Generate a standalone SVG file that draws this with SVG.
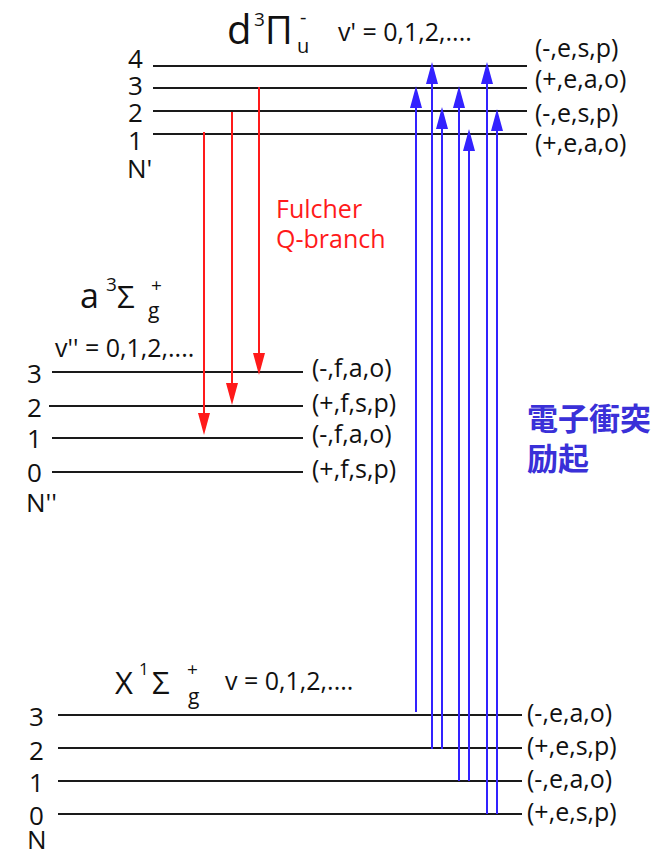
<svg xmlns="http://www.w3.org/2000/svg" width="666" height="856" viewBox="0 0 666 856">
<style>
.lvl{stroke:#1a1a1a;stroke-width:2;fill:none}
.t{font-family:"Open Sans","Liberation Sans",sans-serif;fill:#111}
.num{font-size:26px}
.par{font-size:25px}
.blue{stroke:#3322ff;stroke-width:2;fill:none}
.red{stroke:#ff1a1a;stroke-width:2;fill:none}
.rt{font-family:"Open Sans","Liberation Sans",sans-serif;font-size:25px;fill:#ff1a1a}
.cjk{font-family:"Noto Sans CJK JP","Noto Sans CJK SC",sans-serif;font-weight:bold;font-size:31px;fill:#3a30d8}
</style>
<defs>
<marker id="ab" viewBox="0 0 22 12" refX="12" refY="6" markerWidth="22" markerHeight="12" markerUnits="userSpaceOnUse" orient="auto"><path d="M0,0 L22,6 L0,12 z" fill="#3322ff"/></marker>
<marker id="ar" viewBox="0 0 22 12" refX="12" refY="6" markerWidth="22" markerHeight="12" markerUnits="userSpaceOnUse" orient="auto"><path d="M0,0 L22,6 L0,12 z" fill="#ff1a1a"/></marker>
</defs>
<rect width="666" height="856" fill="#fff"/>

<g id="state-d">
<line class="lvl" x1="153" y1="66" x2="527" y2="66"/>
<line class="lvl" x1="153" y1="88" x2="527" y2="88"/>
<line class="lvl" x1="153" y1="111" x2="527" y2="111"/>
<line class="lvl" x1="153" y1="134" x2="527" y2="134"/>
<text class="t num" x="128" y="68">4</text>
<text class="t num" x="128" y="95">3</text>
<text class="t num" x="128" y="122">2</text>
<text class="t num" x="128" y="150">1</text>
<text class="t num" x="127" y="178">N'</text>
<text class="t par" x="535" y="57">(-,e,s,p)</text>
<text class="t par" x="535" y="88">(+,e,a,o)</text>
<text class="t par" x="535" y="122">(-,e,s,p)</text>
<text class="t par" x="535" y="152">(+,e,a,o)</text>
<text class="t" x="227" y="44" font-size="40">d</text>
<text class="t" x="254" y="26" font-size="19">3</text>
<text class="t" x="265" y="44" font-size="38">Π</text>
<text class="t" x="297" y="53" font-size="20">u</text>
<text class="t" x="300" y="24" font-size="20">-</text>
<text class="t" x="338" y="41" font-size="25">v' = 0,1,2,....</text>
</g>

<g id="state-a">
<line class="lvl" x1="52" y1="372" x2="303" y2="372"/>
<line class="lvl" x1="49" y1="406" x2="303" y2="406"/>
<line class="lvl" x1="52" y1="438" x2="303" y2="438"/>
<line class="lvl" x1="52" y1="472" x2="303" y2="472"/>
<text class="t num" x="27" y="383">3</text>
<text class="t num" x="27" y="417">2</text>
<text class="t num" x="27" y="448">1</text>
<text class="t num" x="27" y="482">0</text>
<text class="t num" x="26" y="512">N''</text>
<text class="t par" x="312" y="377">(-,f,a,o)</text>
<text class="t par" x="312" y="412">(+,f,s,p)</text>
<text class="t par" x="312" y="443">(-,f,a,o)</text>
<text class="t par" x="312" y="478">(+,f,s,p)</text>
<text class="t" x="80" y="308" font-size="34">a</text>
<text class="t" x="106" y="291" font-size="19">3</text>
<text class="t" x="117" y="308" font-size="31">Σ</text>
<text class="t" x="151" y="292" font-size="19">+</text>
<text class="t" x="148" y="318" font-size="21">g</text>
<text class="t" x="55" y="357" font-size="25">v'' = 0,1,2,....</text>
</g>

<g id="state-X">
<line class="lvl" x1="58" y1="715" x2="522" y2="715"/>
<line class="lvl" x1="58" y1="748" x2="522" y2="748"/>
<line class="lvl" x1="58" y1="781" x2="522" y2="781"/>
<line class="lvl" x1="58" y1="814" x2="522" y2="814"/>
<text class="t num" x="29" y="726">3</text>
<text class="t num" x="29" y="760">2</text>
<text class="t num" x="29" y="792">1</text>
<text class="t num" x="29" y="825">0</text>
<text class="t num" x="27" y="849">N</text>
<text class="t par" x="527" y="722">(-,e,a,o)</text>
<text class="t par" x="527" y="755">(+,e,s,p)</text>
<text class="t par" x="527" y="788">(-,e,a,o)</text>
<text class="t par" x="527" y="821">(+,e,s,p)</text>
<text class="t" x="115" y="694" font-size="31">X</text>
<text class="t" x="139" y="675" font-size="17">1</text>
<text class="t" x="152" y="694" font-size="31">Σ</text>
<text class="t" x="187" y="676" font-size="19">+</text>
<text class="t" x="188" y="704" font-size="21">g</text>
<text class="t" x="225" y="690" font-size="25">v = 0,1,2,....</text>
</g>

<g id="connectors">
<line class="blue" x1="416" y1="712" x2="416" y2="96" marker-end="url(#ab)"/>
<line class="blue" x1="432" y1="749" x2="432" y2="72" marker-end="url(#ab)"/>
<line class="blue" x1="442" y1="749" x2="442" y2="117" marker-end="url(#ab)"/>
<line class="blue" x1="459" y1="781" x2="459" y2="96" marker-end="url(#ab)"/>
<line class="blue" x1="469" y1="781" x2="469" y2="139" marker-end="url(#ab)"/>
<line class="blue" x1="487" y1="814" x2="487" y2="72" marker-end="url(#ab)"/>
<line class="blue" x1="497" y1="814" x2="497" y2="119" marker-end="url(#ab)"/>
<line class="red" x1="204" y1="132" x2="204" y2="425" marker-end="url(#ar)"/>
<line class="red" x1="232" y1="112" x2="232" y2="395" marker-end="url(#ar)"/>
<line class="red" x1="259" y1="87" x2="259" y2="365" marker-end="url(#ar)"/>
</g>

<g id="labels">
<text class="rt" x="276" y="218">Fulcher</text>
<text class="rt" x="276" y="248">Q-branch</text>
<text class="cjk" x="527" y="430">電子衝突</text>
<text class="cjk" x="527" y="470">励起</text>
</g>
</svg>
